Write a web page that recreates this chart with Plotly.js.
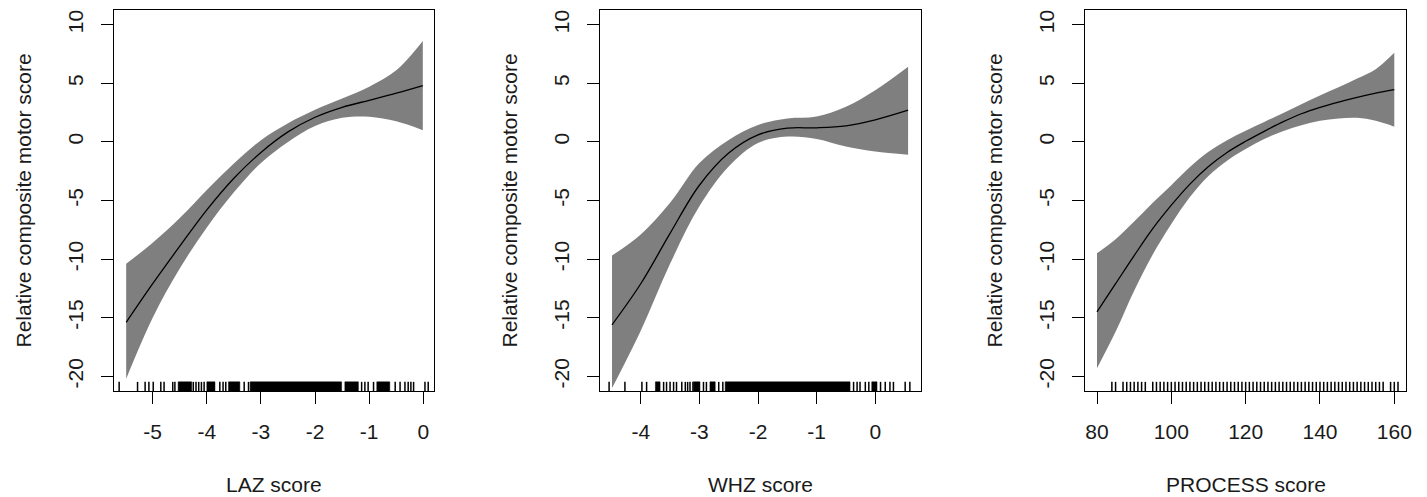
<!DOCTYPE html>
<html><head><meta charset="utf-8">
<script src="https://cdn.plot.ly/plotly-3.0.1.min.js"></script>
<style>html,body{margin:0;padding:0;background:#fff}#chart{width:1427px;height:497px}</style>
</head><body><div id="chart"></div>
<script>
// ---------- data ----------
const yTickVals = [-20, -15, -10, -5, 0, 5, 10];
const yTickText = ["-20", "-15", "-10", "-5", "0", "5", "10"];
const yTitle = "Relative composite motor score";

// Panel 1: LAZ
const lazTitle = "LAZ score";
const lazTickVals = [-5, -4, -3, -2, -1, 0];
const lazTickText = ["-5", "-4", "-3", "-2", "-1", "0"];
const lazX     = [-5.49, -5.0, -4.5, -4.0, -3.5, -3.0, -2.5, -2.0, -1.5, -1.0, -0.5, -0.01];
const lazFit   = [-15.4, -12.1, -8.9, -5.8, -3.1, -0.9, 0.85, 2.1, 2.95, 3.55, 4.15, 4.8];
const lazUpper = [-10.4, -8.6, -6.5, -4.1, -1.85, 0.15, 1.6, 2.75, 3.7, 4.7, 6.1, 8.6];
const lazLower = [-20.2, -15.0, -10.8, -7.3, -4.3, -1.8, 0.0, 1.35, 2.05, 2.15, 1.75, 1.0];
const lazRug = [-5.62, -5.28, -5.14, -5.07, -4.99, -4.85, -4.79, -4.63, -4.59, -4.25, -4.20, -4.15, -4.10, -4.05,
  -3.76, -3.70, -3.65, -3.31, -3.23, -1.14, -1.08, -1.02, -0.92, -0.52, -0.43, -0.34, -0.28, -0.23, -0.18, 0.03, 0.09];
const lazRugDense = [[-4.53, -4.28], [-4.00, -3.85], [-3.60, -3.39], [-3.20, -1.51], [-1.45, -1.20], [-0.86, -0.62]];

// Panel 2: WHZ
const whzTitle = "WHZ score";
const whzTickVals = [-4, -3, -2, -1, 0];
const whzTickText = ["-4", "-3", "-2", "-1", "0"];
const whzX     = [-4.49, -4.0, -3.5, -3.0, -2.5, -2.0, -1.5, -1.0, -0.5, 0.0, 0.56];
const whzFit   = [-15.6, -12.1, -7.8, -3.7, -0.95, 0.6, 1.17, 1.2, 1.37, 1.88, 2.7];
const whzUpper = [-9.7, -7.9, -5.2, -1.8, 0.17, 1.45, 2.0, 2.17, 3.0, 4.4, 6.4];
const whzLower = [-21.0, -16.1, -10.4, -5.5, -2.1, -0.1, 0.45, 0.25, -0.4, -0.83, -1.1];
const whzRug = [-4.54, -4.27, -3.98, -3.90, -3.61, -3.56, -3.50, -3.44, -3.39, -3.30, -3.24, -3.20, -3.16, -3.11,
  -2.93, -2.88, -2.67, -2.60, -0.37, -0.31, -0.26, -0.17, -0.11, 0.09, 0.17, 0.25, 0.31, 0.51, 0.59];
const whzRugDense = [[-3.75, -3.67], [-3.10, -2.99], [-2.82, -2.73], [-2.56, -0.43], [-0.06, 0.03]];

// Panel 3: PROCESS
const procTitle = "PROCESS score";
const procTickVals = [80, 100, 120, 140, 160];
const procTickText = ["80", "100", "120", "140", "160"];
const procX     = [80, 85, 90, 95, 100, 105, 110, 115, 120, 125, 130, 135, 140, 145, 150, 155, 160];
const procFit   = [-14.5, -12.1, -9.7, -7.4, -5.4, -3.6, -2.1, -0.9, 0.05, 0.9, 1.7, 2.4, 2.95, 3.4, 3.8, 4.15, 4.45];
const procUpper = [-9.5, -8.3, -6.8, -5.2, -3.7, -2.15, -0.85, 0.15, 0.95, 1.7, 2.45, 3.2, 3.95, 4.65, 5.4, 6.2, 7.6];
const procLower = [-19.3, -16.2, -12.7, -9.6, -7.0, -4.7, -2.9, -1.6, -0.6, 0.25, 0.9, 1.42, 1.8, 2.0, 2.05, 1.8, 1.3];
const procRug = [84, 85, 87, 88, 89, 90, 91, 92, 93, 95, 96, 97, 98, 99, 100, 101, 102, 103, 104, 105, 106, 107, 108, 109,
  110, 111, 112, 113, 114, 115, 116, 117, 118, 119, 120, 121, 122, 123, 124, 125, 126, 127, 128, 129, 130, 131, 132, 133,
  134, 135, 136, 137, 138, 139, 140, 141, 142, 143, 144, 145, 146, 147, 148, 149, 150, 151, 152, 153, 154, 155, 156, 157,
  159, 160, 161];
const procRugDense = [];

// ---------- drawing ----------
const W = 1427, H = 497;
const FONT = "Liberation Sans, Arial, sans-serif";
const TXT = "#1a1a1a";
const FS = 21;
const yRange = [-21.25, 11.25];
const rugLen = 0.78;
const boxTop = 10, boxBot = 391;
const panels = [
  {l: 114, r: 434, range: [-5.715, 0.197], tv: lazTickVals, tt: lazTickText, title: lazTitle,
   x: lazX, fit: lazFit, up: lazUpper, lo: lazLower, rug: lazRug, dense: lazRugDense},
  {l: 600, r: 921, range: [-4.695, 0.78], tv: whzTickVals, tt: whzTickText, title: whzTitle,
   x: whzX, fit: whzFit, up: whzUpper, lo: whzLower, rug: whzRug, dense: whzRugDense},
  {l: 1085, r: 1406, range: [76.77, 163.15], tv: procTickVals, tt: procTickText, title: procTitle,
   x: procX, fit: procFit, up: procUpper, lo: procLower, rug: procRug, dense: procRugDense}
];

const traces = [];
const layout = {
  width: W, height: H, margin: {l: 0, r: 0, t: 0, b: 0},
  paper_bgcolor: "#fff", plot_bgcolor: "#fff", showlegend: false,
  font: {family: FONT, size: FS, color: TXT},
  annotations: []
};
const yDom = [1 - boxBot / H, 1 - boxTop / H];

panels.forEach((p, i) => {
  const sfx = i === 0 ? "" : String(i + 1);
  const xa = "x" + sfx, ya = "y" + sfx;
  // band
  traces.push({x: p.x, y: p.lo, xaxis: xa, yaxis: ya, mode: "lines", line: {width: 0, shape: "spline", smoothing: 1},
    hoverinfo: "skip"});
  traces.push({x: p.x, y: p.up, xaxis: xa, yaxis: ya, mode: "lines", line: {width: 0, shape: "spline", smoothing: 1},
    fill: "tonexty", fillcolor: "#7f7f7f", hoverinfo: "skip"});
  // fit
  traces.push({x: p.x, y: p.fit, xaxis: xa, yaxis: ya, mode: "lines",
    line: {color: "#000", width: 1.3, shape: "spline", smoothing: 1}});
  // rug ticks
  const y0 = yRange[0], y1 = yRange[0] + rugLen;
  const rx = [], ry = [];
  p.rug.forEach(v => { rx.push(v, v, null); ry.push(y0, y1, null); });
  traces.push({x: rx, y: ry, xaxis: xa, yaxis: ya, mode: "lines", line: {color: "#000", width: 1.5}, hoverinfo: "skip"});
  // dense rug spans
  if (p.dense.length) {
    const dx = [], dy = [];
    p.dense.forEach(([a, b]) => { dx.push(a, b, b, a, a, null); dy.push(y0, y0, y1, y1, y0, null); });
    traces.push({x: dx, y: dy, xaxis: xa, yaxis: ya, mode: "lines", fill: "toself", fillcolor: "#000",
      line: {color: "#000", width: 0.5}, hoverinfo: "skip"});
  }
  const common = {
    showgrid: false, zeroline: false, showline: true, mirror: true, linecolor: "#000", linewidth: 1,
    ticks: "outside", ticklen: 12, tickwidth: 1, tickcolor: "#000",
    tickfont: {family: FONT, size: FS, color: TXT}, fixedrange: true
  };
  layout["xaxis" + sfx] = Object.assign({}, common, {
    domain: [p.l / W, p.r / W], range: p.range, anchor: ya,
    tickmode: "array", tickvals: p.tv, ticktext: p.tt, ticklabelstandoff: 10
  });
  layout["yaxis" + sfx] = Object.assign({}, common, {
    domain: yDom, range: yRange, anchor: xa,
    tickmode: "array", tickvals: yTickVals, ticktext: yTickText, tickangle: -90, ticklabelstandoff: 10
  });
  layout.annotations.push({
    text: p.title, xref: "paper", yref: "paper", x: (p.l + p.r) / 2 / W, y: 1 - 484 / H,
    xanchor: "center", yanchor: "middle", showarrow: false, font: {family: FONT, size: FS, color: TXT}
  });
  layout.annotations.push({
    text: yTitle, xref: "paper", yref: "paper", x: (p.l - 91) / W, y: 1 - (boxTop + boxBot) / 2 / H,
    xanchor: "center", yanchor: "middle", textangle: -90, showarrow: false,
    font: {family: FONT, size: FS, color: TXT}
  });
});

Plotly.newPlot("chart", traces, layout, {staticPlot: true, displayModeBar: false});
</script>
</body></html>
